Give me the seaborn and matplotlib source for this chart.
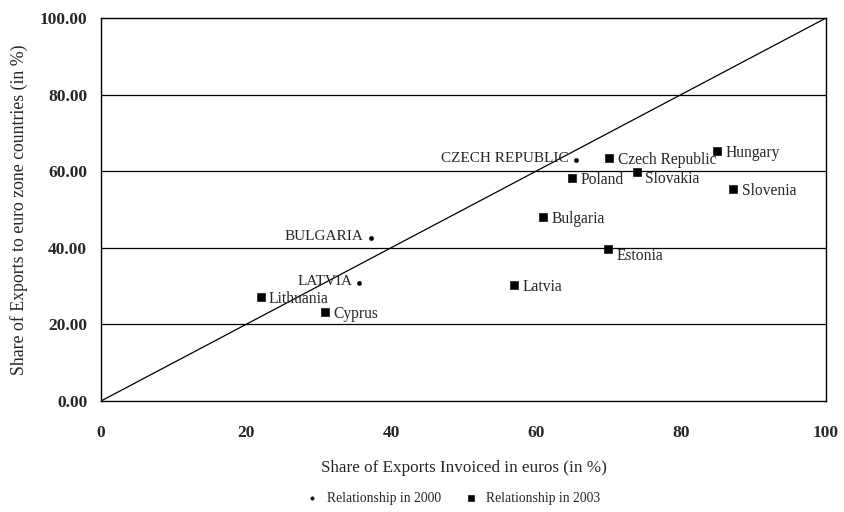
import matplotlib
matplotlib.use("Agg")
import matplotlib.pyplot as plt
import seaborn as sns
import pandas as pd

# 2003 (squares)
countries_2003 = ["Czech Republic", "Hungary", "Poland", "Slovakia", "Slovenia",
                  "Bulgaria", "Estonia", "Latvia", "Lithuania", "Cyprus"]
invoiced_2003 = [70.1, 85.0, 65.0, 73.9, 87.2, 61.0, 69.9, 57.0, 22.0, 30.9]
eurozone_2003 = [63.4, 65.3, 58.2, 59.8, 55.4, 48.0, 39.7, 30.3, 27.2, 23.2]

# 2000 (dots)
countries_2000 = ["CZECH REPUBLIC", "BULGARIA", "LATVIA"]
invoiced_2000 = [65.5, 37.2, 35.6]
eurozone_2000 = [62.9, 42.6, 30.8]

sns.set_style("white")
plt.rcParams["font.family"] = ["Liberation Serif", "DejaVu Serif"]

df03 = pd.DataFrame({"x": invoiced_2003, "y": eurozone_2003, "name": countries_2003})
df00 = pd.DataFrame({"x": invoiced_2000, "y": eurozone_2000, "name": countries_2000})

fig = plt.figure(figsize=(8.44, 5.12), dpi=100)
ax = fig.add_axes([0.1197, 0.2168, 0.859, 0.748])

for yv in [20, 40, 60, 80]:
    ax.axhline(yv, color="black", lw=0.9, zorder=1)
ax.plot([0, 100], [0, 100], color="black", lw=0.9, zorder=1)

sns.scatterplot(data=df00, x="x", y="y", marker="o", s=10, color="black",
                edgecolor="black", ax=ax, zorder=3, label="Relationship in 2000")
sns.scatterplot(data=df03, x="x", y="y", marker="s", s=30, color="black",
                edgecolor="black", ax=ax, zorder=3, label="Relationship in 2003")

# some labels sit a bit lower than their marker
lower = {"Slovakia": -5, "Estonia": -5}
for _, r in df03.iterrows():
    dy = lower.get(r["name"], -1.5)
    ax.annotate(r["name"], (r["x"], r["y"]), xytext=(6, dy), textcoords="offset points",
                fontsize=11.2, va="center", ha="left")
for _, r in df00.iterrows():
    ax.annotate(r["name"], (r["x"], r["y"]), xytext=(-5, 1), textcoords="offset points",
                fontsize=11, va="center", ha="right")

ax.set_xlim(0, 100)
ax.set_ylim(0, 100)
ax.set_xticks([0, 20, 40, 60, 80, 100])
ax.set_yticks([0, 20, 40, 60, 80, 100])
ax.set_yticklabels([f"{v:.2f}" for v in [0, 20, 40, 60, 80, 100]], fontsize=12.5,
                   fontweight="bold")
ax.set_xticklabels(["0", "20", "40", "60", "80", "100"], fontsize=12.5, fontweight="bold")
ax.tick_params(axis="x", direction="out", length=4, width=0.9, color="black", pad=13)
ax.tick_params(axis="y", direction="out", length=4, width=0.9, color="black", pad=6)
for sp in ax.spines.values():
    sp.set_color("black")
    sp.set_linewidth(1.0)

ax.set_xlabel("Share of Exports Invoiced in euros (in %)", fontsize=12.3, labelpad=14)
ax.set_ylabel("Share of Exports to euro zone countries (in %)", fontsize=12.8, labelpad=8)

ax.legend(loc="upper center", bbox_to_anchor=(0.48, -0.205), ncol=2, frameon=False,
          fontsize=9.8, handletextpad=0.1, columnspacing=1.2, markerscale=0.8)

fig.savefig("out.png", dpi=100)
